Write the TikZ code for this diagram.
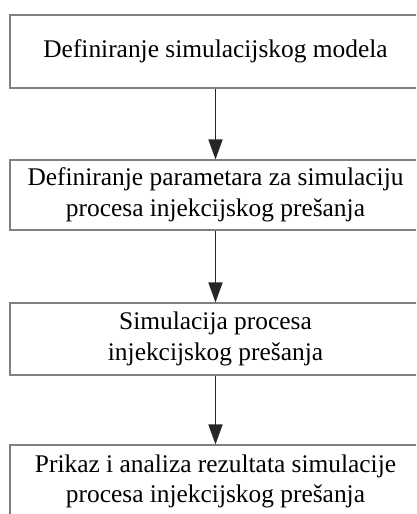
\documentclass[tikz,border=0pt]{standalone}
\usepackage{fontspec}
\setmainfont{Liberation Serif}
\usetikzlibrary{arrows.meta}
\definecolor{boxgray}{RGB}{128,128,128}
\begin{document}
\begin{tikzpicture}[x=1pt,y=-1pt,
  stepbox/.style={draw=boxgray, line width=1.1pt, minimum width=411pt, inner sep=0pt, align=center,
    font=\fontsize{25.4}{30.5}\selectfont},
  flow/.style={draw=black!85, line width=1.6pt, -{Triangle[length=20pt,width=14pt]}}]
\useasboundingbox (0,0) rectangle (416,514);
\clip (0,0) rectangle (416,514);
\node[stepbox, minimum height=73pt] (a) at (215.5,51.5) {Definiranje simulacijskog modela};
\node[stepbox, minimum height=70pt] (b) at (215.5,195) {Definiranje parametara za simulaciju\\procesa injekcijskog prešanja};
\node[stepbox, minimum height=72pt] (c) at (215.5,339) {Simulacija procesa\\injekcijskog prešanja};
\node[stepbox, minimum height=73pt] (d) at (215.5,481.5) {Prikaz i analiza rezultata simulacije\\procesa injekcijskog prešanja};
\draw[flow] (a.south) -- (b.north);
\draw[flow] (b.south) -- (c.north);
\draw[flow] (c.south) -- (d.north);
\end{tikzpicture}
\end{document}
